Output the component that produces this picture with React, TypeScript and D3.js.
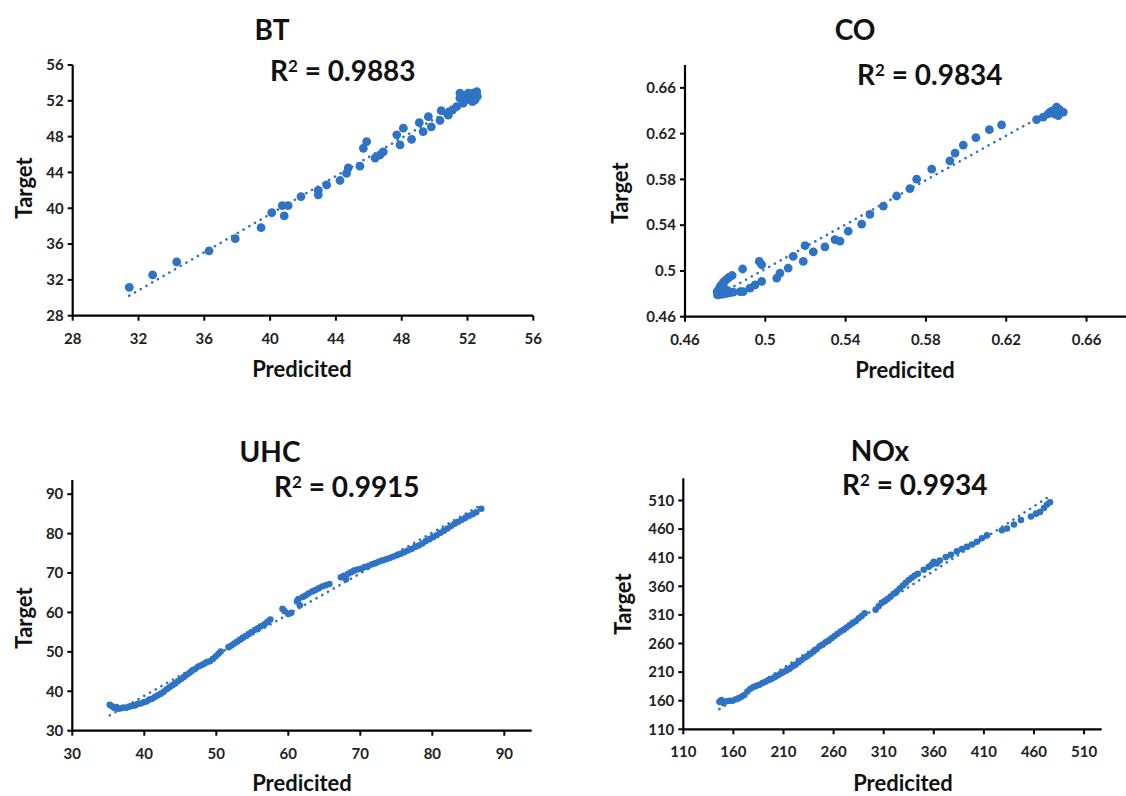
import React from 'react';
import * as d3 from 'd3';

// ---------------- DATA ----------------
const btPred = [31.44, 32.86, 34.32, 36.29, 37.88, 39.45, 40.1, 40.74, 41.1, 40.86, 41.88, 42.93, 42.93, 43.44, 44.25, 44.75, 44.65, 45.46, 45.67, 45.87, 46.38, 46.68, 46.88, 47.7, 48.1, 47.9, 48.6, 49.07, 49.62, 49.3, 49.8, 50.4, 50.33, 50.83, 51.34, 51.54, 51.74, 51.95, 52.15, 52.35, 52.56, 52.46, 51.54, 52.05, 51.1, 52.3, 52.6, 51.8, 50.9];
const btTarget = [31.17, 32.55, 34.0, 35.23, 36.6, 37.83, 39.5, 40.3, 40.3, 39.14, 41.3, 42.0, 41.5, 42.6, 43.1, 44.5, 43.9, 44.7, 46.7, 47.44, 45.6, 45.95, 46.3, 48.2, 48.94, 47.07, 47.7, 49.56, 50.23, 48.56, 49.1, 50.9, 49.8, 50.4, 51.35, 52.29, 51.73, 52.66, 52.1, 52.85, 53.03, 52.1, 52.85, 52.85, 51.0, 51.9, 52.5, 52.2, 50.8];
const btTicks = ['28', '32', '36', '40', '44', '48', '52', '56'];

const coPred = [0.4762, 0.4765, 0.4768, 0.4772, 0.4778, 0.4785, 0.4792, 0.48, 0.481, 0.482, 0.4835, 0.477, 0.478, 0.4795, 0.481, 0.4825, 0.484, 0.479, 0.48, 0.4815, 0.476, 0.4775, 0.4887, 0.497, 0.4982, 0.4875, 0.489, 0.4924, 0.4949, 0.4982, 0.5057, 0.5073, 0.5114, 0.5139, 0.5189, 0.5198, 0.5239, 0.5297, 0.5347, 0.5372, 0.5413, 0.548, 0.5521, 0.5588, 0.5654, 0.572, 0.5754, 0.5829, 0.5919, 0.5945, 0.5986, 0.6049, 0.6116, 0.6177, 0.6351, 0.6384, 0.6409, 0.6434, 0.6451, 0.6459, 0.6484, 0.6443, 0.642, 0.6465];
const coTarget = [0.479, 0.481, 0.483, 0.485, 0.487, 0.4885, 0.49, 0.4915, 0.493, 0.4945, 0.496, 0.48, 0.4795, 0.48, 0.4805, 0.481, 0.4815, 0.482, 0.484, 0.4825, 0.482, 0.486, 0.5017, 0.5083, 0.5054, 0.482, 0.482, 0.485, 0.4879, 0.4908, 0.4938, 0.4981, 0.5025, 0.5127, 0.5083, 0.5221, 0.5166, 0.521, 0.5274, 0.526, 0.5347, 0.541, 0.5494, 0.5567, 0.5655, 0.572, 0.5802, 0.589, 0.5962, 0.603, 0.61, 0.6165, 0.6235, 0.6276, 0.6323, 0.6344, 0.6373, 0.6402, 0.6432, 0.6358, 0.6388, 0.637, 0.639, 0.641];
const coTicks = ['0.46', '0.5', '0.54', '0.58', '0.62', '0.66'];

const uhcPred = [35.2, 35.5, 35.8, 36.1, 36.4, 36.8, 37.1, 37.5, 37.9, 38.3, 38.7, 39.1, 39.5, 39.9, 40.3, 40.7, 41.1, 41.5, 41.9, 42.3, 42.7, 43.1, 43.5, 43.9, 44.3, 44.7, 45.1, 45.5, 45.9, 46.3, 46.7, 47.1, 47.5, 47.9, 48.3, 48.7, 49.1, 49.5, 49.9, 50.3, 50.6, 51.7, 52.1, 52.5, 52.9, 53.3, 53.7, 54.1, 54.5, 54.9, 55.4, 55.8, 56.2, 56.7, 57.1, 57.5, 59.2, 59.5, 60.0, 60.4, 61.2, 61.4, 61.6, 62.0, 62.4, 62.8, 63.3, 63.7, 64.2, 64.7, 65.2, 65.7, 67.3, 67.7, 68.0, 68.3, 68.7, 69.1, 69.6, 70.1, 70.6, 71.1, 71.6, 72.1, 72.6, 73.1, 73.6, 74.1, 74.6, 75.1, 75.6, 76.1, 76.6, 77.1, 77.6, 78.1, 78.6, 79.1, 79.6, 80.1, 80.6, 81.1, 81.6, 82.1, 82.6, 83.1, 83.6, 84.1, 84.6, 85.1, 85.6, 86.1, 86.8];
const uhcTarget = [36.6, 36.2, 35.8, 36.0, 35.6, 35.7, 35.9, 35.8, 36.1, 36.3, 36.4, 36.8, 36.9, 37.2, 37.4, 37.9, 38.1, 38.6, 39.0, 39.4, 39.9, 40.5, 41.0, 41.5, 42.0, 42.6, 43.1, 43.6, 44.2, 44.7, 45.3, 45.7, 46.3, 46.6, 47.0, 47.4, 47.6, 48.2, 48.8, 49.5, 50.1, 51.2, 51.6, 52.1, 52.6, 53.1, 53.6, 54.0, 54.5, 55.0, 55.6, 56.0, 56.5, 57.0, 57.6, 58.2, 60.9, 60.3, 59.6, 59.9, 62.8, 63.4, 61.8, 63.9, 64.3, 64.8, 65.3, 65.6, 66.1, 66.6, 66.9, 67.2, 68.9, 69.3, 68.4, 69.8, 70.2, 70.6, 70.9, 71.1, 71.5, 71.8, 72.2, 72.5, 72.9, 73.2, 73.5, 73.8, 74.2, 74.5, 74.9, 75.3, 75.7, 76.1, 76.6, 77.0, 77.5, 78.1, 78.6, 79.1, 79.6, 80.2, 80.7, 81.3, 81.9, 82.5, 83.0, 83.5, 84.0, 84.5, 84.9, 85.4, 86.3];
const uhcTicks = ['30', '40', '50', '60', '70', '80', '90'];

const noxPred = [146, 148, 150, 153, 156, 159, 162, 165, 168, 171, 174, 177, 180, 183, 186, 189, 192, 195, 198, 201, 204, 207, 210, 213, 216, 219, 222, 225, 228, 231, 234, 237, 240, 243, 246, 249, 252, 255, 258, 261, 264, 267, 270, 273, 276, 279, 282, 285, 288, 291, 302, 305, 308, 311, 314, 317, 320, 323, 326, 329, 332, 335, 338, 341, 344, 350, 355, 358, 360, 363, 366, 372, 377, 383, 388, 393, 398, 403, 408, 413, 428, 433, 440, 447, 457, 462, 466, 470, 473, 476];
const noxTarget = [158, 161, 156, 159, 160, 160, 162, 164, 167, 170, 176, 181, 184, 186, 188, 191, 193, 196, 198, 201, 204, 207, 210, 213, 216, 220, 223, 227, 231, 235, 238, 242, 246, 250, 255, 258, 262, 265, 269, 273, 277, 281, 284, 288, 292, 296, 299, 304, 308, 313, 319, 325, 331, 334, 338, 342, 347, 351, 356, 361, 366, 371, 375, 379, 382, 389, 394, 398, 403, 400, 405, 411, 415, 421, 425, 429, 433, 438, 444, 449, 458, 461, 468, 476, 482, 487, 490, 497, 503, 507];
const noxTicks = ['110', '160', '210', '260', '310', '360', '410', '460', '510'];

const titles = ['BT', 'CO', 'UHC', 'NOx'];
const r2Labels = ['0.9883', '0.9834', '0.9915', '0.9934'];

// ---------------- LAYOUT ----------------
const BLUE = '#2E73C4';
const FONT = 'Lato, "Open Sans", sans-serif';

type Panel = {
  xs: number[]; ys: number[]; ticks: string[];
  xDomain: [number, number]; yDomain: [number, number];
  xRange: [number, number]; yRange: [number, number];
  title: string; r2: string;
  titlePos: [number, number]; r2Pos: [number, number];
  yLabelPos: [number, number]; xLabelPos: [number, number];
  r: number;
};

const panels: Panel[] = [
  {
    xs: btPred, ys: btTarget, ticks: btTicks,
    xDomain: [28, 56], yDomain: [28, 56], xRange: [72.7, 533.3], yRange: [315.7, 65],
    title: titles[0], r2: r2Labels[0], titlePos: [272, 40], r2Pos: [270, 81],
    yLabelPos: [24, 188], xLabelPos: [302, 377], r: 4.4,
  },
  {
    xs: coPred, ys: coTarget, ticks: coTicks,
    xDomain: [0.46, 0.68], yDomain: [0.46, 0.68], xRange: [685, 1126.7], yRange: [316.7, 65],
    title: titles[1], r2: r2Labels[1], titlePos: [855, 40], r2Pos: [857, 85],
    yLabelPos: [620, 193], xLabelPos: [905, 378], r: 4.4,
  },
  {
    xs: uhcPred, ys: uhcTarget, ticks: uhcTicks,
    xDomain: [30, 93.8], yDomain: [30, 93.6], xRange: [72.3, 531.7], yRange: [730.7, 480],
    title: titles[2], r2: r2Labels[2], titlePos: [270, 462], r2Pos: [274, 497],
    yLabelPos: [24, 618], xLabelPos: [302, 791], r: 3.3,
  },
  {
    xs: noxPred, ys: noxTarget, ticks: noxTicks,
    xDomain: [110, 527.6], yDomain: [110, 548.8], xRange: [683.3, 1101.7], yRange: [729.3, 478.3],
    title: titles[3], r2: r2Labels[3], titlePos: [880, 461], r2Pos: [842, 495],
    yLabelPos: [623, 604], xLabelPos: [903, 791], r: 3.3,
  },
];

function linReg(xs: number[], ys: number[]) {
  const mx = d3.mean(xs) as number;
  const my = d3.mean(ys) as number;
  let sxy = 0, sxx = 0;
  xs.forEach((x, i) => { sxy += (x - mx) * (ys[i] - my); sxx += (x - mx) * (x - mx); });
  const b = sxy / sxx;
  return { a: my - b * mx, b };
}

function ScatterPanel({ p }: { p: Panel }) {
  const x = d3.scaleLinear().domain(p.xDomain).range(p.xRange);
  const y = d3.scaleLinear().domain(p.yDomain).range(p.yRange);
  const reg = linReg(p.xs, p.ys);
  const [x0, x1] = d3.extent(p.xs) as [number, number];
  const line = d3.line<number>().x((v) => x(v)).y((v) => y(reg.a + reg.b * v));
  const tickVals = p.ticks.map(Number);
  const ax = p.xRange[0];
  const ay = p.yRange[0];
  return (
    <g>
      {p.xs.map((v, i) => (
        <circle key={i} cx={x(v)} cy={y(p.ys[i])} r={p.r} fill={BLUE} />
      ))}
      <path d={line([x0, x1]) || ''} fill="none" stroke={BLUE} strokeWidth={2.6}
        strokeDasharray="0.1 6.5" strokeLinecap="round" />
      <line x1={ax} x2={p.xRange[1]} y1={ay} y2={ay} stroke="#000" strokeWidth={2.2} />
      <line x1={ax} x2={ax} y1={ay + 1} y2={p.yRange[1]} stroke="#000" strokeWidth={2.2} />
      {tickVals.map((t, i) => (
        <g key={'x' + i}>
          <line x1={x(t)} x2={x(t)} y1={ay} y2={ay + 5} stroke="#000" strokeWidth={2} />
          <text x={x(t)} y={ay + 28} textAnchor="middle" fontSize={15} fontWeight={700}
            fill="#222" fontFamily={FONT}>{p.ticks[i]}</text>
        </g>
      ))}
      {tickVals.map((t, i) => (
        <g key={'y' + i}>
          <line x1={ax - 5} x2={ax} y1={y(t)} y2={y(t)} stroke="#000" strokeWidth={2} />
          <text x={ax - 9} y={y(t)} dy="0.35em" textAnchor="end" fontSize={15} fontWeight={700}
            fill="#222" fontFamily={FONT}>{p.ticks[i]}</text>
        </g>
      ))}
      <text x={p.titlePos[0]} y={p.titlePos[1]} textAnchor="middle" fontSize={28} fontWeight={700}
        fontFamily={FONT} fill="#111">{p.title}</text>
      <text x={p.r2Pos[0]} y={p.r2Pos[1]} fontSize={28} fontWeight={700} fontFamily={FONT} fill="#111">
        R<tspan fontSize={17} dy={-9}>2</tspan><tspan dy={9}> = {p.r2}</tspan>
      </text>
      <text transform={`translate(${p.yLabelPos[0] + 8},${p.yLabelPos[1]}) rotate(-90)`} textAnchor="middle"
        fontSize={22} fontWeight={700} fontFamily={FONT} fill="#111">Target</text>
      <text x={p.xLabelPos[0]} y={p.xLabelPos[1]} textAnchor="middle" fontSize={22} fontWeight={700}
        fontFamily={FONT} fill="#111">Predicited</text>
    </g>
  );
}

export default function App() {
  return (
    <svg width={1126} height={796} style={{ position: 'absolute', left: 0, top: 0, background: '#fff' }}>
      <rect width={1126} height={796} fill="#fff" />
      {panels.map((p, i) => <ScatterPanel key={i} p={p} />)}
    </svg>
  );
}
